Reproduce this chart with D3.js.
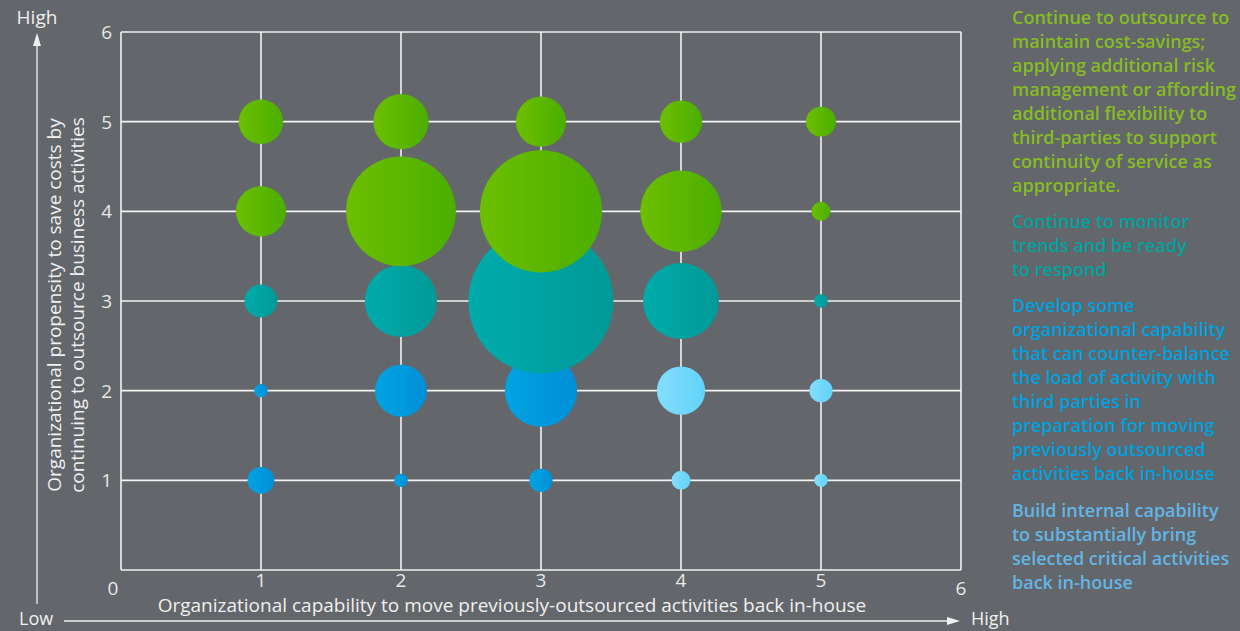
<!DOCTYPE html>
<html>
<head>
<meta charset="utf-8">
<script src="https://cdn.jsdelivr.net/npm/d3@7"></script>
<style>
  body { margin: 0; background: #63666a; }
  svg { display: block; font-family: 'Open Sans', sans-serif; }
</style>
</head>
<body>
<svg></svg>
<script>
var width = 1240,
    height = 631;

// Data: bubble value at each (x, y) cell, and its color group
var xValues = [1, 2, 3, 4, 5];
var yValues = [1, 2, 3, 4, 5];
var bubbleValues = {
    5: [11, 17, 14, 10, 5],
    4: [14, 67, 83, 37, 2],
    3: [6, 29, 117, 32, 1],
    2: [1, 15, 29, 13, 3],
    1: [4, 1, 3, 2, 1]
};
var bubbleGroups = {
    5: ['green', 'green', 'green', 'green', 'green'],
    4: ['green', 'green', 'green', 'green', 'green'],
    3: ['teal', 'teal', 'teal', 'teal', 'teal'],
    2: ['blue', 'blue', 'blue', 'light', 'light'],
    1: ['blue', 'blue', 'blue', 'light', 'light']
};
var axisTicks = [0, 1, 2, 3, 4, 5, 6];
var xTitle = 'Organizational capability to move previously-outsourced activities back in-house';
var yTitle = ['Organizational propensity to save costs by', 'continuing to outsource business activities'];

var notes = [
    { group: 'green', lines: ['Continue to outsource to', 'maintain cost-savings;', 'applying additional risk', 'management or affording', 'additional flexibility to', 'third-parties to support', 'continuity of service as', 'appropriate.'] },
    { group: 'teal', lines: ['Continue to monitor', 'trends and be ready', 'to respond'] },
    { group: 'blue', lines: ['Develop some', 'organizational capability', 'that can counter-balance', 'the load of activity with', 'third parties in', 'preparation for moving', 'previously outsourced', 'activities back in-house'] },
    { group: 'light', lines: ['Build internal capability', 'to substantially bring', 'selected critical activities', 'back in-house'] }
];

var gradients = {
    green: ['#6cbf00', '#4bae00'],
    teal: ['#00abab', '#009a98'],
    blue: ['#00a4e2', '#008fd8'],
    light: ['#84defc', '#62d2fa']
};
var textColor = {
    green: '#86bc25',
    teal: '#00a39f',
    blue: '#00a1de',
    light: '#62b5e5'
};

var margin = { left: 121, right: 279, top: 32, bottom: 61 };

var x = d3.scaleLinear().domain([0, 6]).range([margin.left, width - margin.right]);
var y = d3.scaleLinear().domain([0, 6]).range([height - margin.bottom, margin.top]);
var r = d3.scaleSqrt().domain([0, 117]).range([0, 72.5]);

var svg = d3.select('svg')
    .attr('width', width)
    .attr('height', height);

svg.append('rect')
    .attr('width', width)
    .attr('height', height)
    .attr('fill', '#63666a');

// Gradients for bubbles
var defs = svg.append('defs');
Object.keys(gradients).forEach(function(k) {
    var g = defs.append('linearGradient')
        .attr('id', 'grad-' + k)
        .attr('x1', 0).attr('x2', 1).attr('y1', 0).attr('y2', 0);
    g.append('stop').attr('offset', 0).attr('stop-color', gradients[k][0]);
    g.append('stop').attr('offset', 1).attr('stop-color', gradients[k][1]);
});

// Grid
var grid = svg.append('g').attr('stroke', '#f2f2f2').attr('stroke-width', 1.6);
grid.selectAll('line.v')
    .data(axisTicks)
    .enter().append('line')
    .attr('x1', function(d) { return x(d); })
    .attr('x2', function(d) { return x(d); })
    .attr('y1', y(6))
    .attr('y2', y(0));
grid.selectAll('line.h')
    .data(axisTicks)
    .enter().append('line')
    .attr('x1', x(0))
    .attr('x2', x(6))
    .attr('y1', function(d) { return y(d); })
    .attr('y2', function(d) { return y(d); });

// Bubbles (bottom rows first so upper rows sit on top)
var bubbles = [];
yValues.forEach(function(yy) {
    xValues.forEach(function(xx, i) {
        bubbles.push({ x: xx, y: yy, v: bubbleValues[yy][i], group: bubbleGroups[yy][i] });
    });
});

svg.append('g').selectAll('circle')
    .data(bubbles)
    .enter().append('circle')
    .attr('cx', function(d) { return x(d.x); })
    .attr('cy', function(d) { return y(d.y); })
    .attr('r', function(d) { return r(d.v); })
    .attr('fill', function(d) { return 'url(#grad-' + d.group + ')'; });

// Tick labels
var tickStyle = function(sel) {
    sel.attr('fill', '#e8e8e8').attr('font-size', 19);
};
svg.append('g').selectAll('text')
    .data(axisTicks.slice(1))
    .enter().append('text')
    .attr('x', x(0) - 9)
    .attr('y', function(d) { return y(d) + 7; })
    .attr('text-anchor', 'end')
    .text(function(d) { return d; })
    .call(tickStyle);

svg.append('g').selectAll('text')
    .data(axisTicks)
    .enter().append('text')
    .attr('x', function(d) { return d === 0 ? x(d) - 8 : x(d); })
    .attr('y', function(d) { return (d === 0 || d === 6) ? y(0) + 25 : y(0) + 17; })
    .attr('text-anchor', 'middle')
    .text(function(d) { return d; })
    .call(tickStyle);

// Axis titles
svg.append('text')
    .attr('x', 512)
    .attr('y', 612)
    .attr('text-anchor', 'middle')
    .attr('fill', '#f0f0f0')
    .attr('font-size', 19)
    .text(xTitle);

svg.append('g')
    .attr('transform', 'translate(61,305) rotate(-90)')
    .selectAll('text')
    .data(yTitle)
    .enter().append('text')
    .attr('x', 0)
    .attr('y', function(d, i) { return i * 23; })
    .attr('text-anchor', 'middle')
    .attr('fill', '#f0f0f0')
    .attr('font-size', 19)
    .text(function(d) { return d; });

// Low/High arrows
var arrows = svg.append('g').attr('stroke', '#f0f0f0').attr('stroke-width', 1.3);
arrows.append('line').attr('x1', 37).attr('x2', 37).attr('y1', 604).attr('y2', 46);
arrows.append('line').attr('x1', 64).attr('x2', 948).attr('y1', 621).attr('y2', 621);
svg.append('path').attr('d', 'M37,33 L33,46 L41,46 Z').attr('fill', '#f0f0f0');
svg.append('path').attr('d', 'M960,621 L947,617 L947,625 Z').attr('fill', '#f0f0f0');

var endLabels = [
    { t: 'High', x: 37, y: 24, a: 'middle', s: 19 },
    { t: 'Low', x: 19, y: 625, a: 'start', s: 18 },
    { t: 'High', x: 971, y: 625, a: 'start', s: 18 }
];
svg.append('g').selectAll('text')
    .data(endLabels)
    .enter().append('text')
    .attr('x', function(d) { return d.x; })
    .attr('y', function(d) { return d.y; })
    .attr('text-anchor', function(d) { return d.a; })
    .attr('fill', '#f0f0f0')
    .attr('font-size', function(d) { return d.s; })
    .text(function(d) { return d.t; });

// Notes on the right
var noteTops = [24, 228, 312, 517];
notes.forEach(function(n, k) {
    svg.append('g').selectAll('text')
        .data(n.lines)
        .enter().append('text')
        .attr('x', 1012)
        .attr('y', function(d, i) { return noteTops[k] + i * 24; })
        .attr('fill', textColor[n.group])
        .attr('font-size', 18)
        .attr('font-weight', 600)
        .text(function(d) { return d; });
});
</script>
</body>
</html>
